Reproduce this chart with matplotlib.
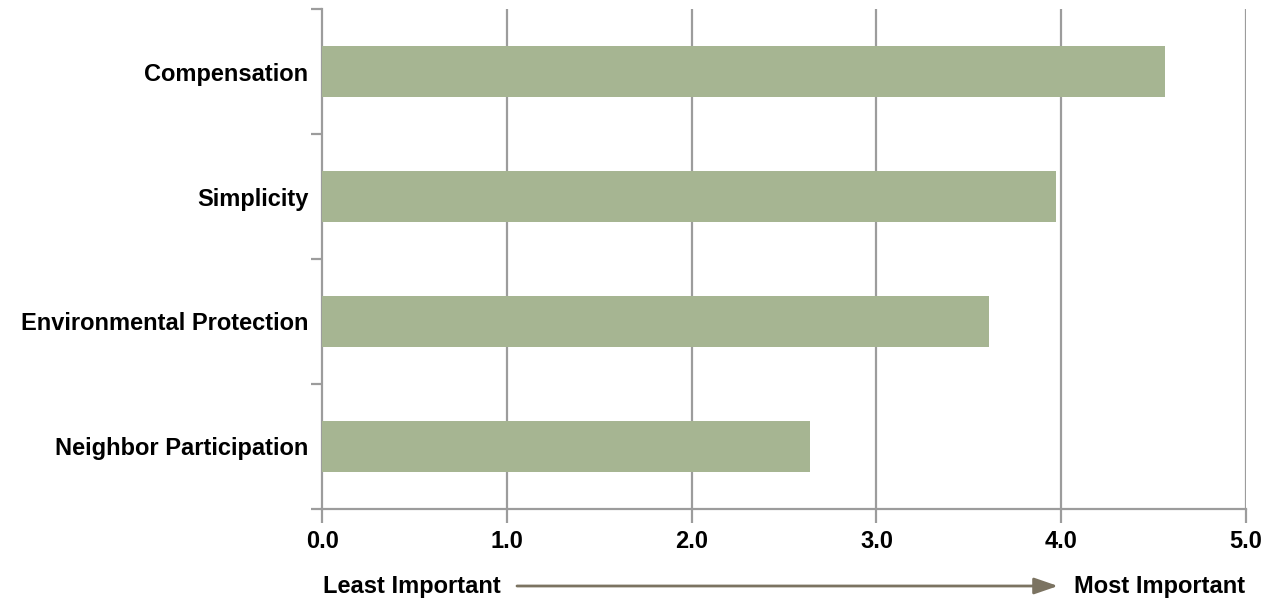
import numpy as np
import matplotlib.pyplot as plt
from matplotlib.ticker import FixedLocator

categories = ["Compensation", "Simplicity", "Environmental Protection", "Neighbor Participation"]
scores = [4.56, 3.97, 3.61, 2.64]
x_ticks = [0.0, 1.0, 2.0, 3.0, 4.0, 5.0]
low_label = "Least Important"
high_label = "Most Important"

plt.rcParams['font.family'] = ['Liberation Sans', 'DejaVu Sans']
plt.rcParams['font.weight'] = 'bold'

BAR = '#a6b592'
GRID = '#9c9c9c'
ARROW = '#7b7361'
FS = 17

fig = plt.figure(figsize=(12.66, 6.05), dpi=100)
ax = fig.add_axes([0.2544, 0.1587, 0.7298, 0.8264])

y = np.arange(len(categories))
ax.barh(y, scores, height=0.405, color=BAR, zorder=3)

ax.set_xlim(0, 5)
ax.set_ylim(len(categories) - 0.5, -0.5)

# vertical grid
for t in x_ticks[1:]:
    ax.axvline(t, color=GRID, lw=1.6, zorder=1)

ax.set_xticks(x_ticks)
ax.set_xticklabels([f"{t:.1f}" for t in x_ticks], fontsize=FS, fontweight='bold')
ax.tick_params(axis='x', length=10, width=1.6, color=GRID, pad=5)

ax.set_yticks(y)
ax.set_yticklabels(categories, fontsize=FS, fontweight='bold')
ax.tick_params(axis='y', which='major', length=0, pad=10)
ax.yaxis.set_minor_locator(FixedLocator(np.arange(len(categories) + 1) - 0.5))
ax.tick_params(axis='y', which='minor', length=8, width=1.6, color=GRID)

for s in ['top', 'right']:
    ax.spines[s].set_visible(False)
for s in ['left', 'bottom']:
    ax.spines[s].set_color(GRID)
    ax.spines[s].set_linewidth(1.6)

# importance arrow below axis
fig.text(323 / 1266, 1 - 586 / 605, low_label, fontsize=FS, fontweight='bold',
         ha='left', va='center')
fig.text(1245 / 1266, 1 - 586 / 605, high_label, fontsize=FS, fontweight='bold',
         ha='right', va='center')
ax.annotate('', xy=(1058 / 1266, 1 - 586 / 605), xytext=(517 / 1266, 1 - 586 / 605),
            xycoords='figure fraction', textcoords='figure fraction',
            arrowprops=dict(arrowstyle='-|>,head_length=1.45,head_width=0.5',
                            color=ARROW, lw=2, shrinkA=0, shrinkB=0))

fig.savefig('out.png', dpi=100)
